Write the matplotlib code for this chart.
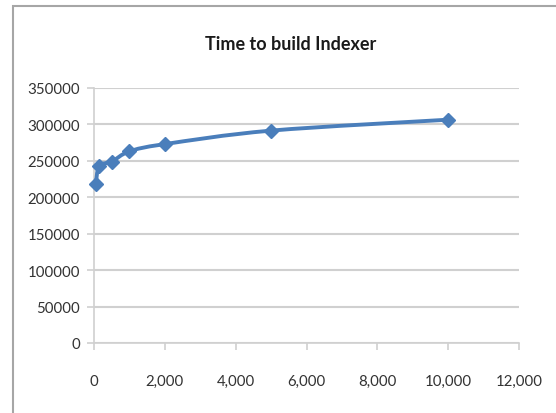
import matplotlib.pyplot as plt
from matplotlib.path import Path
from matplotlib.patches import PathPatch, Rectangle
from matplotlib.ticker import FuncFormatter
import numpy as np

# records indexed vs. build time
docs = [50, 150, 500, 1000, 2000, 5000, 10000]
build_time = [218500, 243000, 249000, 263000, 273000, 291500, 306500]

title = "Time to build Indexer"
xticks = [0, 2000, 4000, 6000, 8000, 10000, 12000]
yticks = [0, 50000, 100000, 150000, 200000, 250000, 300000, 350000]

line_col = "#4a7ebb"
grid_col = "#d0d0d0"

plt.rcParams['font.family'] = ['Lato', 'DejaVu Sans']


def smooth_path(xs, ys):
    # excel style smoothed line: cubic bezier through every point
    x = np.asarray(xs, float)
    y = np.asarray(ys, float)
    verts = [(x[0], y[0])]
    codes = [Path.MOVETO]
    n = len(x)
    for i in range(n - 1):
        p0 = (x[max(i - 1, 0)], y[max(i - 1, 0)])
        p1 = (x[i], y[i])
        p2 = (x[i + 1], y[i + 1])
        p3 = (x[min(i + 2, n - 1)], y[min(i + 2, n - 1)])
        c1 = (p1[0] + (p2[0] - p0[0]) / 6, p1[1] + (p2[1] - p0[1]) / 6)
        c2 = (p2[0] - (p3[0] - p1[0]) / 6, p2[1] - (p3[1] - p1[1]) / 6)
        verts += [c1, c2, p2]
        codes += [Path.CURVE4] * 3
    return Path(verts, codes)


fig = plt.figure(figsize=(5.56, 4.14), dpi=100, facecolor='w')

# chart frame
fig.patches.append(Rectangle((13 / 556, -0.1), 1.2, 1 - 7 / 414 + 0.1,
                             transform=fig.transFigure, fill=False,
                             edgecolor='#a6a6a6', linewidth=1.5))

ax = fig.add_axes([94 / 556, 70 / 414, 425 / 556, 255 / 414])
ax.set_xlim(0, 12000)
ax.set_ylim(0, 350000)
ax.set_xticks(xticks)
ax.set_yticks(yticks)
ax.xaxis.set_major_formatter(FuncFormatter(lambda v, p: f"{int(v):,}"))
ax.yaxis.set_major_formatter(FuncFormatter(lambda v, p: f"{int(v)}"))

ax.yaxis.grid(True, color=grid_col, linewidth=1.5)
ax.set_axisbelow(True)
for s in ['top', 'right']:
    ax.spines[s].set_visible(False)
for s in ['left', 'bottom']:
    ax.spines[s].set_color(grid_col)
    ax.spines[s].set_linewidth(1.2)

ax.tick_params(axis='x', length=5, width=1.2, color=grid_col, pad=17,
               labelsize=10.8, labelcolor='#333333')
ax.tick_params(axis='y', length=5, width=1.2, color=grid_col, pad=5,
               labelsize=10.8, labelcolor='#333333')

ax.add_patch(PathPatch(smooth_path(docs, build_time), fill=False,
                       edgecolor=line_col, linewidth=2.8, capstyle='round',
                       joinstyle='round', zorder=3))
ax.plot(docs, build_time, linestyle='none', marker='D', markersize=7.5,
        color=line_col, zorder=4, clip_on=False)

fig.text(291 / 556, 1 - 45 / 414, title, ha='center', va='center',
         fontsize=13, fontweight='bold', color='#1a1a1a')

fig.savefig("out.png", dpi=100, facecolor='w')
